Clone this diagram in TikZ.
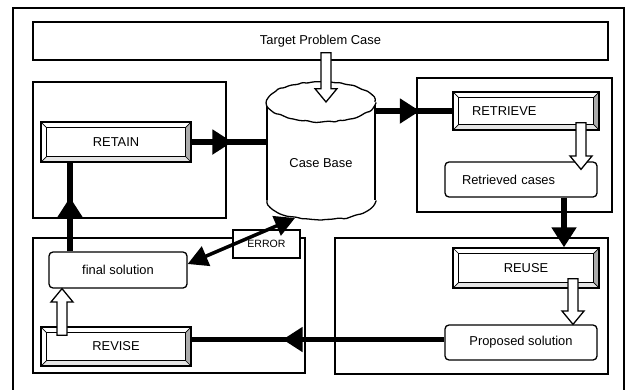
\documentclass[tikz,border=0pt]{standalone}
\usepackage{fontspec}
\setmainfont{Liberation Sans}
\usetikzlibrary{arrows.meta,calc,decorations.markings,decorations.pathmorphing}

\begin{document}
\begin{tikzpicture}[x=0.03cm, y=0.03cm,
      every node/.append style={inner sep=0pt, font=\fontsize{11}{13}\selectfont},
      panel/.style={draw, line width=1.1pt},
      card/.style={draw, line width=1.1pt, fill=white, rounded corners=0.12cm},
      flow/.style={line width=4.8pt},
      midtip/.style={postaction={decorate, decoration={markings,
          mark=at position #1 with {\arrow{Triangle[length=0.6cm,width=0.72cm]}}}}}]
    \tikzstyle{stage} = [draw, line width=1.2pt, fill=white, path picture={
        \path (path picture bounding box.south west) coordinate (o1) ++(0.16cm,0.16cm) coordinate (i1);
        \path (path picture bounding box.north east) coordinate (o3) ++(-0.16cm,-0.16cm) coordinate (i3);
        \fill[gray!65] (o1 -| o3) -- (o3) -- (i3) -- (i1 -| i3) -- cycle;
        \fill[gray!20] (o1) -- (o1 -| o3) -- (i1 -| i3) -- (i1) -- cycle;
        \draw[line width=0.9pt] (i1) rectangle (i3);
        \draw[line width=0.6pt] (o1) -- (i1) (o3) -- (i3) (o1 -| o3) -- (i1 -| i3) (o1 |- o3) -- (i1 |- i3);
      }]
    \tikzstyle{hollow} = [draw, fill=white, line width=1.1pt, to path={
        ($(\tikztostart)!0.15cm!90:(\tikztotarget)$)
        -- ($(\tikztotarget)!0.4cm!(\tikztostart)!0.15cm!-90:(\tikztostart)$)
        -- ($(\tikztotarget)!0.4cm!(\tikztostart)!0.33cm!-90:(\tikztostart)$)
        -- (\tikztotarget)
        -- ($(\tikztotarget)!0.4cm!(\tikztostart)!0.33cm!90:(\tikztostart)$)
        -- ($(\tikztotarget)!0.4cm!(\tikztostart)!0.15cm!90:(\tikztostart)$)
        -- ($(\tikztostart)!0.15cm!-90:(\tikztotarget)$) -- cycle}]
    \tikzstyle{wobble} = [decorate, decoration={random steps, segment length=4pt, amplitude=0.8pt}, rounded corners=1.2pt]

    \useasboundingbox (0,0) rectangle (628,-389);
    \clip (0,0) rectangle (628,-389);
    \draw[line width=1.1pt] (13,-8) rectangle (624,-400);

    \node [panel, minimum width=17.25cm, minimum height=1.14cm] (target) at (320.5,-41) {Target Problem Case};

    % the four phases
    \node [panel, minimum width=5.79cm, minimum height=4.08cm] (retainpanel) at (129.5,-150) {};
    \node [panel, minimum width=5.85cm, minimum height=4.02cm] (retrievepanel) at (514.5,-145) {};
    \node [panel, minimum width=8.19cm, minimum height=4.08cm] (reusepanel) at (471.5,-306) {};
    \node [panel, minimum width=8.16cm, minimum height=4.05cm] (revisepanel) at (169,-305.5) {};

    \node [stage, minimum width=4.5cm, minimum height=1.2cm] (retain) at (116,-142) {RETAIN};
    \node [stage, minimum width=4.38cm, minimum height=1.14cm, text width=3.24cm, align=left, inner xsep=0.57cm] (retrieve) at (526,-111) {RETRIEVE};
    \node [stage, minimum width=4.38cm, minimum height=1.2cm] (reuse) at (526,-268) {REUSE};
    \node [stage, minimum width=4.5cm, minimum height=1.17cm] (revise) at (116,-346.5) {REVISE};

    \node [card, minimum width=4.56cm, minimum height=1.05cm, text width=3.54cm, align=left, inner xsep=0.51cm] (retrieved) at (521,-179.5) {Retrieved cases};
    \node [card, minimum width=4.56cm, minimum height=1.05cm] (proposed) at (521,-342.5) {Proposed solution};
    \node [card, minimum width=4.14cm, minimum height=1.08cm] (final) at (118,-270) {final solution};

    % case base drum
    \fill[white] (267,-102) -- (267,-200) arc[start angle=180, end angle=360, x radius=1.62cm, y radius=0.6cm] -- (375,-102) -- cycle;
    \draw[line width=1.1pt] (267,-102) -- (267,-200) (375,-102) -- (375,-200);
    \draw[line width=1.1pt, wobble] (267,-200) arc[start angle=180, end angle=360, x radius=1.62cm, y radius=0.6cm];
    \draw[line width=1.1pt, wobble, fill=white] (321,-102) ellipse [x radius=1.62cm, y radius=0.6cm];
    \node (casebase) at (321,-163) {Case Base};
    \coordinate (cbleft) at (267,-142);
    \coordinate (cbright) at (375,-111);
    \coordinate (cbtop) at (326,-102);
    \coordinate (cbfoot) at (295,-218);

    \node [panel, fill=white, minimum width=2.01cm, minimum height=0.84cm, font=\fontsize{9}{11}\selectfont] (error) at (266.5,-244) {ERROR};

    \draw [flow, midtip=0.54] (retain.east) -- (cbleft);
    \draw [flow, midtip=0.58] (cbright) -- (retrieve.west);
    \draw [flow, -{Triangle[length=0.6cm,width=0.72cm]}] ([shift={(43,0)}]retrieved.south) -- ([shift={(38,0)}]reuse.north);
    \coordinate (propout) at ([shift={(0,3)}]proposed.west);
    \draw [flow, midtip=0.64] (propout) -- (propout -| revise.east);
    \coordinate (finalout) at ([shift={(-48,0)}]final.north);
    \draw [flow, midtip=0.61] (finalout) -- (finalout |- retain.south);

    \draw [hollow] ([shift={(5.5,8)}]target.south) to (cbtop);
    \draw [hollow] ([shift={(55,8)}]retrieve.south) to ([shift={(60,-8)}]retrieved.north);
    \draw [hollow] ([shift={(47,10)}]reuse.south) to ([shift={(52,0)}]proposed.north);
    \draw [hollow] ([shift={(-54,-9)}]revise.north) to ([shift={(-56,0)}]final.south);

    \draw [line width=3pt, {Triangle[length=0.6cm,width=0.62cm]}-{Triangle[length=0.6cm,width=0.62cm]}] ([shift={(0,6)}]final.east) -- (cbfoot);
\end{tikzpicture}
\end{document}
